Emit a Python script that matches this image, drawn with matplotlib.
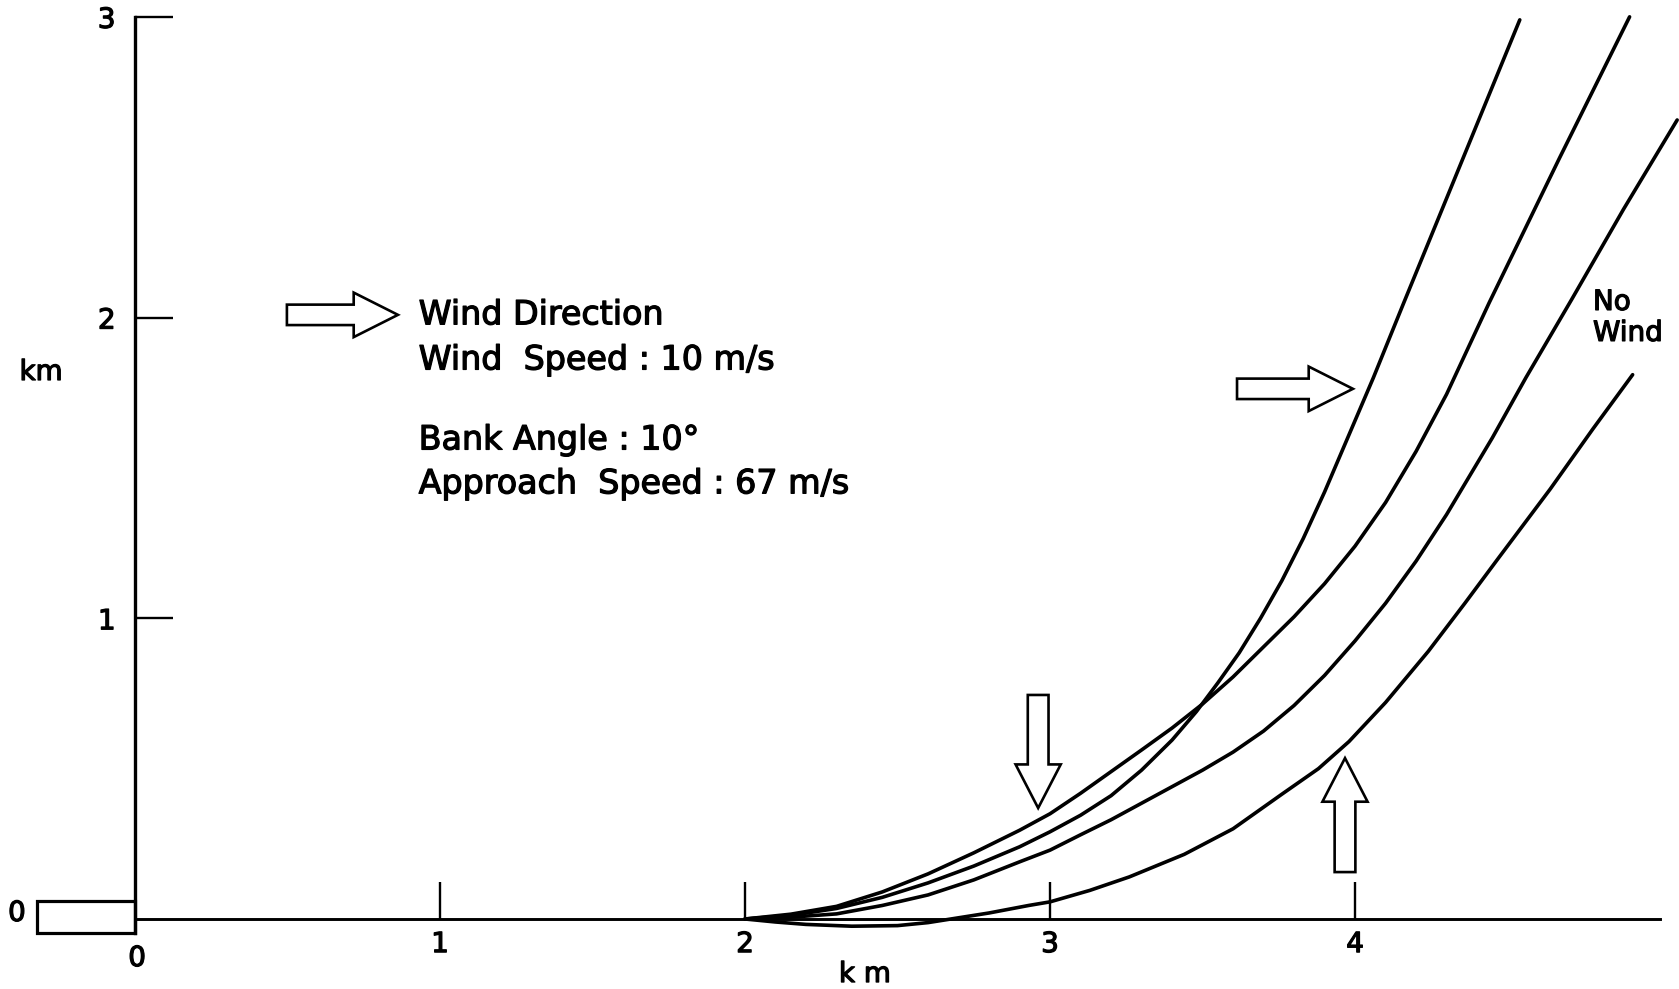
import matplotlib
matplotlib.use("Agg")
import matplotlib.pyplot as plt
import matplotlib.patheffects as pe
from matplotlib.patches import FancyArrow, Rectangle

# ground tracks (km)
wind_east_x = [2.0, 2.15, 2.3, 2.45, 2.6, 2.75, 2.9, 3.0, 3.1, 3.2, 3.3, 3.4, 3.48, 3.55, 3.62, 3.69,
               3.76, 3.83, 3.9, 3.98, 4.06, 4.16, 4.35, 4.54]
wind_east_y = [0.0, 0.012, 0.035, 0.072, 0.12, 0.176, 0.24, 0.29, 0.345, 0.41, 0.495, 0.595, 0.69, 0.785, 0.885, 1.0,
               1.125, 1.265, 1.42, 1.61, 1.80, 2.05, 2.52, 2.99]

wind_south_x = [2.0, 2.15, 2.3, 2.45, 2.6, 2.75, 2.9, 3.0, 3.1, 3.2, 3.3, 3.4, 3.5, 3.6, 3.7, 3.8,
                3.9, 4.0, 4.1, 4.2, 4.3, 4.44, 4.67, 4.90]
wind_south_y = [0.0, 0.016, 0.042, 0.09, 0.15, 0.22, 0.295, 0.35, 0.418, 0.49, 0.562, 0.635, 0.715, 0.805, 0.905, 1.005,
                1.115, 1.24, 1.385, 1.555, 1.745, 2.05, 2.53, 3.0]

no_wind_x = [2.0, 2.15, 2.3, 2.45, 2.6, 2.75, 2.9, 3.0, 3.1, 3.2, 3.3, 3.4, 3.5, 3.6, 3.7, 3.8,
             3.9, 4.0, 4.1, 4.2, 4.3, 4.45, 4.56, 4.71, 4.88, 5.056]
no_wind_y = [0.0, 0.006, 0.017, 0.045, 0.08, 0.13, 0.19, 0.229, 0.28, 0.33, 0.385, 0.44, 0.495, 0.555, 0.625, 0.71,
             0.81, 0.925, 1.05, 1.19, 1.345, 1.60, 1.80, 2.06, 2.36, 2.657]

wind_north_x = [2.0, 2.1, 2.2, 2.35, 2.5, 2.6, 2.7, 2.8, 2.93, 3.0, 3.13, 3.26, 3.44, 3.6, 3.76, 3.88,
                3.98, 4.1, 4.24, 4.36, 4.47, 4.64, 4.78, 4.91]
wind_north_y = [0.0, -0.01, -0.018, -0.024, -0.022, -0.012, 0.004, 0.02, 0.045, 0.057, 0.095, 0.14, 0.215, 0.30, 0.415, 0.50,
                0.59, 0.72, 0.89, 1.05, 1.20, 1.43, 1.63, 1.81]

x_ticks = [1, 2, 3, 4]
y_ticks = [1, 2, 3]

notes = ["Wind Direction", "Wind  Speed : 10 m/s", "Bank Angle : 10°", "Approach  Speed : 67 m/s"]
notes_y = [2.009, 1.859, 1.593, 1.447]

# wind arrows: tail (x, y), (dx, dy)
arrow_tails = [(0.498, 2.009), (3.613, 1.763), (2.961, 0.745), (3.967, 0.156)]
arrow_deltas = [(0.364, 0.0), (0.38, 0.0), (0.0, -0.376), (0.0, 0.379)]

stroke = [pe.withStroke(linewidth=0.9, foreground="black")]

fig = plt.figure(figsize=(16.79, 9.89), dpi=100)
ax = fig.add_axes([0, 0, 1, 1])
ax.set_xlim(-0.4426, 5.062)
ax.set_ylim(-0.2328, 3.056)

for s in ["top", "right"]:
    ax.spines[s].set_visible(False)
ax.spines["left"].set_position(("data", 0))
ax.spines["bottom"].set_position(("data", 0))
ax.spines["left"].set_bounds(-0.047, 3.0)
ax.spines["bottom"].set_bounds(0, 5.0)
ax.spines["left"].set_linewidth(2.4)
ax.spines["bottom"].set_linewidth(2.1)

ax.set_xticks(x_ticks)
ax.set_xticklabels([str(t) for t in x_ticks])
ax.set_yticks(y_ticks)
ax.set_yticklabels([str(t) for t in y_ticks])
ax.tick_params(axis="both", direction="in", length=27, width=1.7, labelsize=20)
ax.tick_params(axis="x", pad=8)
ax.tick_params(axis="y", pad=14)
for lab in ax.get_xticklabels() + ax.get_yticklabels():
    lab.set_path_effects(stroke)

# runway
ax.add_patch(Rectangle((-0.321, -0.047), 0.321, 0.107, fill=False, lw=2.3, ec="black"))

lw = 2.6
ax.plot(wind_east_x, wind_east_y, color="black", lw=lw, solid_capstyle="round", solid_joinstyle="round")
ax.plot(wind_south_x, wind_south_y, color="black", lw=lw, solid_capstyle="round", solid_joinstyle="round")
ax.plot(no_wind_x, no_wind_y, color="black", lw=lw, solid_capstyle="round", solid_joinstyle="round", clip_on=False)
ax.plot(wind_north_x, wind_north_y, color="black", lw=lw, solid_capstyle="round", solid_joinstyle="round")

for (x0, y0), (dx, dy) in zip(arrow_tails, arrow_deltas):
    ax.add_patch(FancyArrow(x0, y0, dx, dy, width=0.068, head_width=0.148, head_length=0.145,
                            length_includes_head=True, fc="white", ec="black", lw=1.9, joinstyle="miter"))

for txt, ty in zip(notes, notes_y):
    ax.text(0.93, ty, txt, fontsize=24, ha="left", va="center", path_effects=stroke)

ax.text(4.78, 2.052, "No", fontsize=20, ha="left", va="center", path_effects=stroke)
ax.text(4.78, 1.949, "Wind", fontsize=20, ha="left", va="center", path_effects=stroke)

ax.text(-0.308, 1.819, "km", fontsize=20, ha="center", va="center", path_effects=stroke)
ax.text(2.393, -0.183, "k m", fontsize=20, ha="center", va="center", path_effects=stroke)
ax.text(-0.387, 0.02, "0", fontsize=20, ha="center", va="center", path_effects=stroke)
ax.text(0.007, -0.13, "0", fontsize=20, ha="center", va="center", path_effects=stroke)

fig.savefig("out.png", dpi=100)
